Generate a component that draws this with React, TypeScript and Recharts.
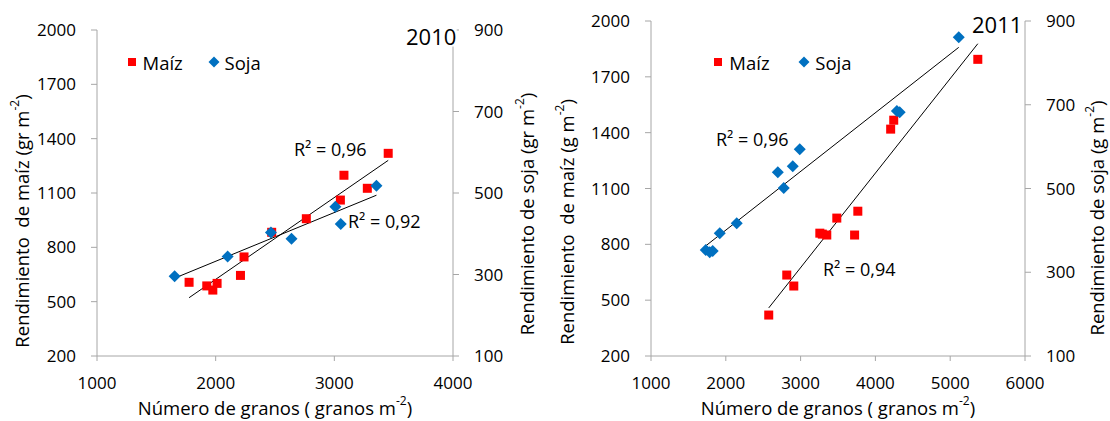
import React from "react";
import { ScatterChart, Scatter, XAxis, YAxis, ReferenceLine, Legend } from "recharts";

const FONT = "'Open Sans', sans-serif";
const RED = "#FF0000";
const BLUE = "#0070C0";
const AXIS = "#A6A6A6";

const maizTicks = [200, 500, 800, 1100, 1400, 1700, 2000];
const sojaTicks = [100, 300, 500, 700, 900];
const granosTicks2010 = [1000, 2000, 3000, 4000];
const granosTicks2011 = [1000, 2000, 3000, 4000, 5000, 6000];

// 2010 campaign
const maizGranos2010 = [1776, 1925, 1976, 2012, 2209, 2239, 2472, 2764, 3051, 3081, 3278, 3454];
const maizRend2010 = [607, 587, 564, 601, 645, 747, 883, 958, 1061, 1198, 1126, 1319];
const sojaGranos2010 = [1654, 2101, 2466, 2639, 3009, 3054, 3355];
const sojaRend2010 = [296, 344, 403, 388, 466, 424, 518];

// 2011 campaign
const maizGranos2011 = [2574, 2815, 2909, 3257, 3290, 3350, 3484, 3722, 3765, 4204, 4245, 5369];
const maizRend2011 = [420, 635, 576, 860, 855, 850, 941, 850, 978, 1419, 1467, 1794];
const sojaGranos2011 = [1732, 1785, 1825, 1919, 2146, 2695, 2775, 2895, 2989, 4287, 4325, 5114];
const sojaRend2011 = [353, 348, 351, 393, 417, 539, 501, 553, 594, 685, 682, 861];

const zip = (xs: number[], ys: number[]) => xs.map((x, i) => ({ x, y: ys[i] }));

// least squares line over the x range of the points
function fitLine(xs: number[], ys: number[]) {
  const n = xs.length;
  const mx = xs.reduce((a, b) => a + b, 0) / n;
  const my = ys.reduce((a, b) => a + b, 0) / n;
  let sxy = 0;
  let sxx = 0;
  for (let i = 0; i < n; i++) {
    sxy += (xs[i] - mx) * (ys[i] - my);
    sxx += (xs[i] - mx) ** 2;
  }
  const m = sxy / sxx;
  const b = my - m * mx;
  const x0 = Math.min(...xs);
  const x1 = Math.max(...xs);
  return [
    { x: x0, y: b + m * x0 },
    { x: x1, y: b + m * x1 },
  ];
}

const Square = (props: any) => (
  <rect x={props.cx - 4.5} y={props.cy - 4.5} width={9} height={9} fill={RED} />
);

const Diamond = (props: any) => {
  const { cx, cy } = props;
  const r = 6;
  return <polygon points={`${cx},${cy - r} ${cx + r},${cy} ${cx},${cy + r} ${cx - r},${cy}`} fill={BLUE} />;
};

function Title({ x, y, text, rotate }: { x: number; y: number; text: string; rotate?: boolean }) {
  return (
    <text
      x={x}
      y={y}
      textAnchor="middle"
      dominantBaseline="central"
      transform={rotate ? `rotate(-90, ${x}, ${y})` : undefined}
      fontSize={18.5}
      fontFamily={FONT}
      fill="#000"
      style={{ whiteSpace: "pre" }}
    >
      <tspan>{text}</tspan>
      <tspan dy={-7} fontSize={12}>-2</tspan>
      <tspan dy={7}>)</tspan>
    </text>
  );
}

function LegendBox({ gap }: { gap: number }) {
  return (
    <div style={{ display: "flex", fontFamily: FONT, fontSize: 18.5, color: "#000" }}>
      <div style={{ display: "flex", alignItems: "center", width: gap, height: 20 }}>
        <svg width={14} height={14}>
          <rect x={3} y={3} width={8} height={8} fill={RED} />
        </svg>
        <span style={{ marginLeft: 4 }}>Maíz</span>
      </div>
      <div style={{ display: "flex", alignItems: "center", height: 20 }}>
        <svg width={14} height={14}>
          <polygon points="7,1.5 12.5,7 7,12.5 1.5,7" fill={BLUE} />
        </svg>
        <span style={{ marginLeft: 4 }}>Soja</span>
      </div>
    </div>
  );
}

type PanelProps = {
  left: number;
  top: number;
  leftW: number;
  rightW: number;
  xTicks: number[];
  maizX: number[];
  maizY: number[];
  sojaX: number[];
  sojaY: number[];
  unit: string;
  titleL: [number, number];
  titleR: [number, number];
  legendAt: [number, number];
  legendGap: number;
};

function Panel(p: PanelProps) {
  const tick = { fill: "#000", fontSize: 17, fontFamily: FONT };
  return (
    <div style={{ position: "absolute", left: p.left, top: 0, width: 555, height: 421 }}>
      <ScatterChart width={555} height={421} margin={{ top: p.top, right: 0, bottom: 0, left: 0 }}>
        <XAxis
          type="number"
          dataKey="x"
          domain={[p.xTicks[0], p.xTicks[p.xTicks.length - 1]]}
          ticks={p.xTicks}
          height={65}
          stroke={AXIS}
          tickSize={5}
          tickMargin={16}
          tick={tick}
          label={(lp: any) => {
            const vb = lp.viewBox;
            return <Title x={vb.x + vb.width / 2} y={vb.y + 51} text="Número de granos ( granos m" />;
          }}
        />
        <YAxis
          yAxisId="maiz"
          type="number"
          dataKey="y"
          domain={[200, 2000]}
          ticks={maizTicks}
          width={p.leftW}
          stroke={AXIS}
          tickSize={6}
          tickMargin={15}
          tick={tick}
          label={() => <Title x={p.titleL[0]} y={p.titleL[1]} rotate text={`Rendimiento  de maíz (${p.unit} m`} />}
        />
        <YAxis
          yAxisId="soja"
          orientation="right"
          type="number"
          dataKey="y"
          domain={[100, 900]}
          ticks={sojaTicks}
          width={p.rightW}
          stroke={AXIS}
          tickSize={6}
          tickMargin={15}
          tick={tick}
          label={() => <Title x={p.titleR[0]} y={p.titleR[1]} rotate text={`Rendimiento de soja (${p.unit} m`} />}
        />
        <Scatter yAxisId="maiz" name="Maíz" data={zip(p.maizX, p.maizY)} fill={RED} shape={Square} isAnimationActive={false} />
        <Scatter yAxisId="soja" name="Soja" data={zip(p.sojaX, p.sojaY)} fill={BLUE} shape={Diamond} isAnimationActive={false} />
        <ReferenceLine yAxisId="maiz" segment={fitLine(p.maizX, p.maizY)} stroke="#000" strokeWidth={1} ifOverflow="visible" />
        <ReferenceLine yAxisId="soja" segment={fitLine(p.sojaX, p.sojaY)} stroke="#000" strokeWidth={1} ifOverflow="visible" />
        <Legend
          layout="horizontal"
          verticalAlign="middle"
          content={() => <LegendBox gap={p.legendGap} />}
          wrapperStyle={{ top: p.legendAt[1], left: p.legendAt[0], width: "auto", height: 20 }}
        />
      </ScatterChart>
    </div>
  );
}

function Note({ x, y, size, children, bg }: { x: number; y: number; size: number; children: string; bg?: boolean }) {
  return (
    <g>
      {bg && <rect x={x - 1} y={y - size * 0.78} width={size * 2.35} height={size * 0.85} fill="#fff" />}
      <text x={x} y={y} fontSize={size} fontFamily={FONT} fill="#000">
        {children}
      </text>
    </g>
  );
}

export default function App() {
  return (
    <div style={{ position: "absolute", left: 0, top: 0, width: 1110, height: 421, background: "#fff" }}>
      <style>{`.recharts-surface { overflow: visible; }`}</style>
      <Panel
        left={0}
        top={30}
        leftW={97}
        rightW={102}
        xTicks={granosTicks2010}
        maizX={maizGranos2010}
        maizY={maizRend2010}
        sojaX={sojaGranos2010}
        sojaY={sojaRend2010}
        unit="gr"
        titleL={[20.5, 221]}
        titleR={[525.7, 214]}
        legendAt={[124.5, 52]}
        legendGap={82}
      />
      <Panel
        left={555}
        top={21}
        leftW={96}
        rightW={85}
        xTicks={granosTicks2011}
        maizX={maizGranos2011}
        maizY={maizRend2011}
        sojaX={sojaGranos2011}
        sojaY={sojaRend2011}
        unit="g"
        titleL={[10.5, 222]}
        titleR={[540.5, 218]}
        legendAt={[156.3, 52]}
        legendGap={86}
      />
      <svg width={1110} height={421} style={{ position: "absolute", left: 0, top: 0, pointerEvents: "none" }}>
        <Note x={406} y={45} size={22} bg>2010</Note>
        <Note x={972} y={33.3} size={22} bg>2011</Note>
        <Note x={294} y={156} size={18}>R² = 0,96</Note>
        <Note x={348} y={228} size={18}>R² = 0,92</Note>
        <Note x={716} y={145.5} size={18}>R² = 0,96</Note>
        <Note x={823} y={276} size={18}>R² = 0,94</Note>
      </svg>
    </div>
  );
}
